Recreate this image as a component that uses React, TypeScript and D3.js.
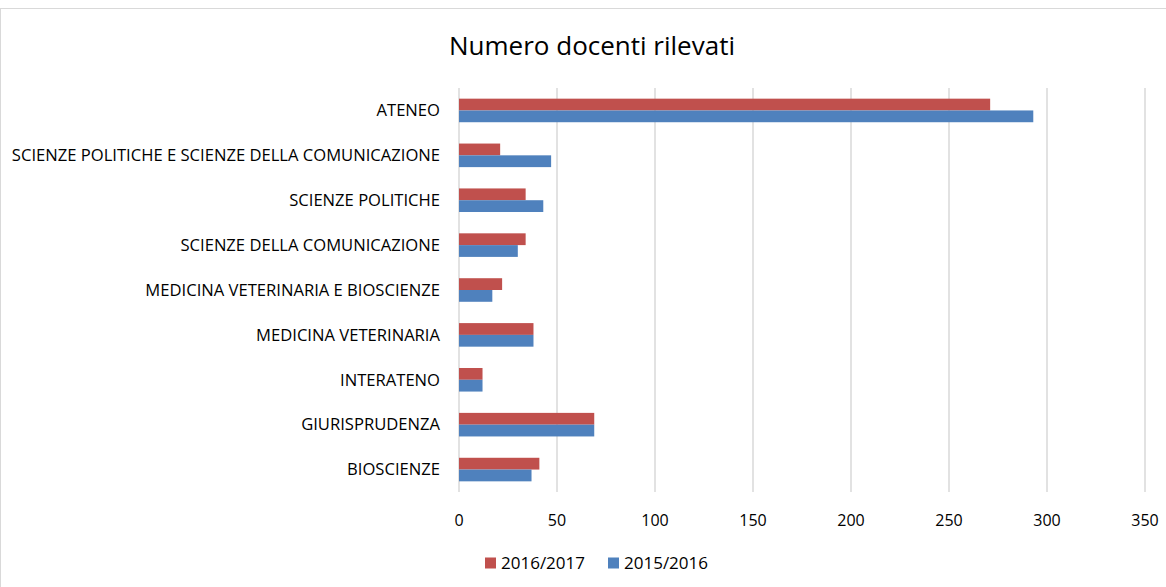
import React from "react";
import * as d3 from "d3";

const categories = [
  "ATENEO",
  "SCIENZE POLITICHE E SCIENZE DELLA COMUNICAZIONE",
  "SCIENZE POLITICHE",
  "SCIENZE DELLA COMUNICAZIONE",
  "MEDICINA VETERINARIA E BIOSCIENZE",
  "MEDICINA VETERINARIA",
  "INTERATENO",
  "GIURISPRUDENZA",
  "BIOSCIENZE",
];
const values2016_2017 = [271, 21, 34, 34, 22, 38, 12, 69, 41];
const values2015_2016 = [293, 47, 43, 30, 17, 38, 12, 69, 37];
const seriesNames = ["2016/2017", "2015/2016"];
const seriesColors = ["#c0504d", "#4f81bd"];
const xTicks = [0, 50, 100, 150, 200, 250, 300, 350];
const title = "Numero docenti rilevati";

const W = 1166;
const H = 587;
const FONT = "'Open Sans', sans-serif";

export default function App() {
  const x = d3.scaleLinear().domain([0, 350]).range([459, 1145]);
  const y = d3.scaleBand().domain(categories).range([88, 492]).paddingInner(0.475).paddingOuter(0.2375);
  const inner = d3.scaleBand().domain(seriesNames).range([0, y.bandwidth()]);
  const series = [values2016_2017, values2015_2016];

  return (
    <svg width={W} height={H} style={{ position: "absolute", left: 0, top: 0, background: "#fff" }}>
      <rect x={0.5} y={8.5} width={W} height={H} fill="#fff" stroke="#d9d9d9" strokeWidth={1} />
      <text x={592} y={55} textAnchor="middle" fontFamily={FONT} fontSize={26} fill="#000">
        {title}
      </text>
      {xTicks.map((t) => (
        <line key={t} x1={x(t)} x2={x(t)} y1={88} y2={492} stroke="#d9d9d9" strokeWidth={1.5} />
      ))}
      {categories.map((c, i) => (
        <g key={c}>
          {series.map((vals, s) => (
            <rect
              key={s}
              x={x(0)}
              y={(y(c) as number) + (inner(seriesNames[s]) as number)}
              width={x(vals[i]) - x(0)}
              height={inner.bandwidth()}
              fill={seriesColors[s]}
            />
          ))}
          <text
            x={440}
            y={(y(c) as number) + y.bandwidth() / 2}
            dy="0.35em"
            textAnchor="end"
            fontFamily={FONT}
            fontSize={16.6}
            fill="#000"
          >
            {c}
          </text>
        </g>
      ))}
      {xTicks.map((t) => (
        <text key={t} x={x(t)} y={520.5} dy="0.35em" textAnchor="middle" fontFamily={FONT} fontSize={16} fill="#000">
          {t}
        </text>
      ))}
      {seriesNames.map((n, s) => (
        <g key={n} transform={`translate(${[485, 608][s]},563)`}>
          <rect x={0} y={-5.5} width={11} height={11} fill={seriesColors[s]} />
          <text x={16} y={0} dy="0.35em" fontFamily={FONT} fontSize={17} fill="#000">
            {n}
          </text>
        </g>
      ))}
    </svg>
  );
}
